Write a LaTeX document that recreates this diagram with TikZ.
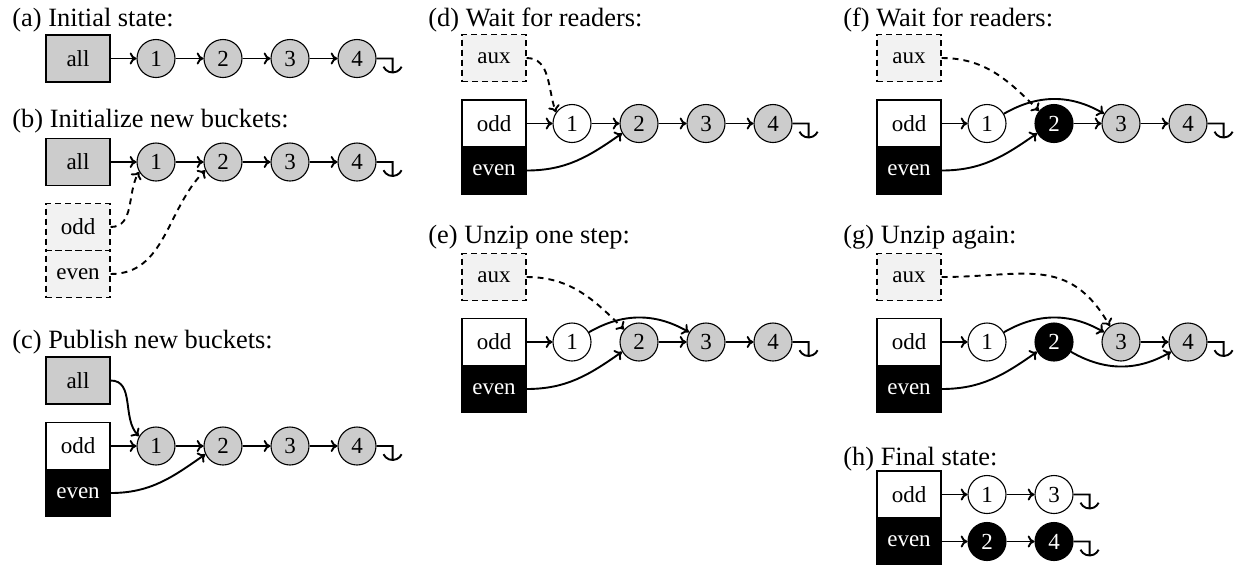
\documentclass[tikz,border=0pt]{standalone}
\usepackage{fontspec}
\setmainfont{Liberation Serif}
\usetikzlibrary{arrows.meta}
\begin{document}
\begin{tikzpicture}[x=0.5pt,y=0.5pt,
  every node/.style={inner sep=0pt},
  heading/.style={anchor=base west, font=\fontsize{13.2}{15}\selectfont},
  bkt/.style={draw, line width=0.55pt, rectangle, minimum width=32pt,
    minimum height=23.5pt, font=\fontsize{11.5}{13}\selectfont},
  allb/.style={bkt, fill=gray!40},
  newb/.style={bkt, fill=gray!10, dash pattern=on 3pt off 2pt},
  oddb/.style={bkt, fill=white},
  evenb/.style={bkt, fill=black, text=white},
  elem/.style={circle, draw, line width=0.55pt, minimum size=19pt,
    font=\fontsize{11.5}{13}\selectfont, fill=gray!40},
  oddel/.style={elem, fill=white},
  evenel/.style={elem, fill=black, text=white},
  link/.style={-{To[length=3.4pt,width=6pt]}, line width=0.95pt},
  newlink/.style={link, dash pattern=on 3pt off 2.5pt},
  endmark/.pic={\draw[line width=0.95pt] (0,0) -- (16,0) -- (16,-14)
    ++(-9.06,5.77) arc[start angle=205, end angle=335, radius=10];}
]
\useasboundingbox (0,0) rectangle (1237,-564);

% ---------- (a) ----------
\node[heading] (ta) at (12,-26) {(a) Initial state:};
\node[allb] (a-all) at (78,-58.5) {all};
\node[elem] (a1) at (156,-58.5) {1};
\node[elem] (a2) at (223,-58.5) {2};
\node[elem] (a3) at (290,-58.5) {3};
\node[elem] (a4) at (357,-58.5) {4};
\draw[link] (a-all) -- (a1);
\draw[link] (a1) -- (a2);
\draw[link] (a2) -- (a3);
\draw[link] (a3) -- (a4);
\pic at (a4.east) {endmark};

% ---------- (b) ----------
\node[heading] (tb) at (12,-127) {(b) Initialize new buckets:};
\node[allb] (b-all) at (78,-162) {all};
\node[newb] (b-odd) at (78,-227) {odd};
\node[newb] (b-even) at (78,-274) {even};
\node[elem] (b1) at (156,-162) {1};
\node[elem] (b2) at (223,-162) {2};
\node[elem] (b3) at (290,-162) {3};
\node[elem] (b4) at (357,-162) {4};
\draw[link] (b-all) -- (b1);
\draw[link] (b1) -- (b2);
\draw[link] (b2) -- (b3);
\draw[link] (b3) -- (b4);
\pic at (b4.east) {endmark};
\draw[newlink] (b-odd.east) to[out=0,in=240] (b1.210);
\draw[newlink] (b-even.east) to[out=0,in=225] (b2.205);

% ---------- (c) ----------
\node[heading] (tc) at (12,-348) {(c) Publish new buckets:};
\node[allb] (c-all) at (78,-380.5) {all};
\node[oddb] (c-odd) at (78,-446) {odd};
\node[evenb] (c-even) at (78,-493) {even};
\node[elem] (c1) at (156,-446) {1};
\node[elem] (c2) at (223,-446) {2};
\node[elem] (c3) at (290,-446) {3};
\node[elem] (c4) at (357,-446) {4};
\draw[link] (c-odd) -- (c1);
\draw[link] (c1) -- (c2);
\draw[link] (c2) -- (c3);
\draw[link] (c3) -- (c4);
\pic at (c4.east) {endmark};
\draw[link] (c-all.east) to[out=0,in=135] (c1.150);
\draw[link] (c-even.east) to[out=0,in=215] (c2.205);

% ---------- (d) ----------
\node[heading] (td) at (428,-26) {(d) Wait for readers:};
\node[newb] (d-aux) at (494,-58) {aux};
\node[oddb] (d-odd) at (494,-123.5) {odd};
\node[evenb] (d-even) at (494,-170.5) {even};
\node[oddel] (d1) at (572,-123.5) {1};
\node[elem] (d2) at (639,-123.5) {2};
\node[elem] (d3) at (706,-123.5) {3};
\node[elem] (d4) at (773,-123.5) {4};
\draw[link] (d-odd) -- (d1);
\draw[link] (d1) -- (d2);
\draw[link] (d2) -- (d3);
\draw[link] (d3) -- (d4);
\pic at (d4.east) {endmark};
\draw[newlink] (d-aux.east) to[out=0,in=110] (d1.145);
\draw[link] (d-even.east) to[out=0,in=215] (d2.210);

% ---------- (e) ----------
\node[heading] (te) at (428,-243) {(e) Unzip one step:};
\node[newb] (e-aux) at (494,-277) {aux};
\node[oddb] (e-odd) at (494,-342) {odd};
\node[evenb] (e-even) at (494,-389) {even};
\node[oddel] (e1) at (572,-342) {1};
\node[elem] (e2) at (639,-342) {2};
\node[elem] (e3) at (706,-342) {3};
\node[elem] (e4) at (773,-342) {4};
\draw[link] (e-odd) -- (e1);
\draw[link] (e2) -- (e3);
\draw[link] (e3) -- (e4);
\pic at (e4.east) {endmark};
\draw[link] (e1.30) to[out=30,in=150] (e3.150);
\draw[newlink] (e-aux.east) to[out=0,in=135] (e2.140);
\draw[link] (e-even.east) to[out=0,in=215] (e2.210);

% ---------- (f) ----------
\node[heading] (tf) at (843,-26) {(f) Wait for readers:};
\node[newb] (f-aux) at (909,-58) {aux};
\node[oddb] (f-odd) at (909,-123.5) {odd};
\node[evenb] (f-even) at (909,-170.5) {even};
\node[oddel] (f1) at (987,-123.5) {1};
\node[evenel] (f2) at (1054,-123.5) {2};
\node[elem] (f3) at (1121,-123.5) {3};
\node[elem] (f4) at (1188,-123.5) {4};
\draw[link] (f-odd) -- (f1);
\draw[link] (f2) -- (f3);
\draw[link] (f3) -- (f4);
\pic at (f4.east) {endmark};
\draw[link] (f1.30) to[out=30,in=150] (f3.150);
\draw[newlink] (f-aux.east) to[out=0,in=135] (f2.140);
\draw[link] (f-even.east) to[out=0,in=215] (f2.210);

% ---------- (g) ----------
\node[heading] (tg) at (843,-243) {(g) Unzip again:};
\node[newb] (g-aux) at (909,-277) {aux};
\node[oddb] (g-odd) at (909,-342) {odd};
\node[evenb] (g-even) at (909,-389) {even};
\node[oddel] (g1) at (987,-342) {1};
\node[evenel] (g2) at (1054,-342) {2};
\node[elem] (g3) at (1121,-342) {3};
\node[elem] (g4) at (1188,-342) {4};
\draw[link] (g-odd) -- (g1);
\draw[link] (g3) -- (g4);
\pic at (g4.east) {endmark};
\draw[link] (g1.30) to[out=30,in=150] (g3.150);
\draw[link] (g2.-30) to[out=-30,in=-150] (g4.-150);
\draw[newlink] (g-aux.east) to[out=0,in=120,looseness=1.2] (g3.125);
\draw[link] (g-even.east) to[out=0,in=215] (g2.210);

% ---------- (h) ----------
\node[heading] (th) at (843,-465) {(h) Final state:};
\node[oddb] (h-odd) at (909,-494.5) {odd};
\node[evenb] (h-even) at (909,-541.5) {even};
\node[oddel] (h1) at (987,-494.5) {1};
\node[oddel] (h3) at (1054,-494.5) {3};
\node[evenel] (h2) at (987,-541.5) {2};
\node[evenel] (h4) at (1054,-541.5) {4};
\draw[link] (h-odd) -- (h1);
\draw[link] (h1) -- (h3);
\pic at (h3.east) {endmark};
\draw[link] (h-even) -- (h2);
\draw[link] (h2) -- (h4);
\pic at (h4.east) {endmark};
\end{tikzpicture}
\end{document}
